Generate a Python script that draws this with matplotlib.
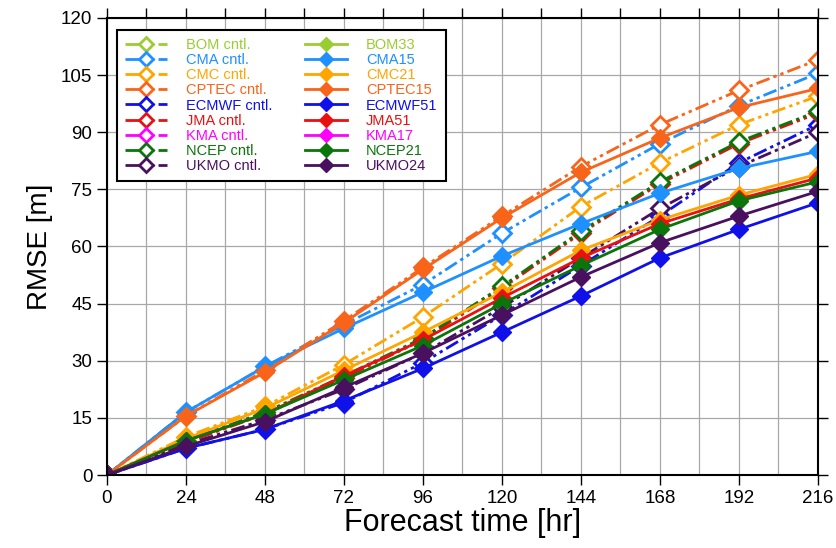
import numpy as np
import matplotlib
matplotlib.use("Agg")
import matplotlib.pyplot as plt
from matplotlib.ticker import MultipleLocator

plt.rcParams['font.family'] = ['Liberation Sans', 'DejaVu Sans']

hours = [0, 24, 48, 72, 96, 120, 144, 168, 192, 216]
nan = np.nan

# control runs
bom_cntl = [nan] * 10
cma_cntl = [0, 16.5, 28.5, 39.5, 50, 63.5, 75.5, 87, 97, 105.5]
cmc_cntl = [0, 10, 18, 29, 41.5, 55.5, 70.5, 82, 92, 99.5]
cptec_cntl = [0, 15.5, 27.5, 40.5, 54.5, 68, 81, 92, 101, 109]
ecmwf_cntl = [0, 7, 12, 19, 29.5, 42, 55, 68, 82, 92]
jma_cntl = [0, 8.5, 16, 25.5, 35.5, 49, 63.5, 76.5, 87, 95]
kma_cntl = [nan] * 10
ncep_cntl = [0, 9, 16.5, 26, 36, 49.5, 64, 77, 87.5, 95.5]
ukmo_cntl = [0, 8, 14.5, 22.5, 32, 44, 57, 70, 81, 90]

# ensemble means
bom_ens = [nan] * 10
cma_ens = [0, 16.5, 28.5, 38.5, 48, 57.5, 66, 74, 80.5, 85]
cmc_ens = [0, 9.5, 17.5, 27.5, 37.5, 48, 59, 67, 73.5, 79]
cptec_ens = [0, 15.5, 27, 40, 54, 67.5, 79.5, 88.5, 96.5, 101.5]
ecmwf_ens = [0, 7, 12, 19.5, 28, 37.5, 47, 57, 64.5, 71.5]
jma_ens = [0, 9, 16, 26, 35.5, 46.5, 57, 66, 72.5, 78]
kma_ens = [nan] * 10
ncep_ens = [0, 9, 16, 25, 34, 45, 55, 64.5, 72, 77]
ukmo_ens = [0, 7.5, 14, 23, 32, 42, 52, 61, 68, 74.5]

cntl_names = ["BOM cntl.", "CMA cntl.", "CMC cntl.", "CPTEC cntl.", "ECMWF cntl.",
              "JMA cntl.", "KMA cntl.", "NCEP cntl.", "UKMO cntl."]
ens_names = ["BOM33", "CMA15", "CMC21", "CPTEC15", "ECMWF51",
             "JMA51", "KMA17", "NCEP21", "UKMO24"]
colors = ["#9acd32", "#1e90ff", "#ffa500", "#f8641a", "#1010e8",
          "#e81010", "#ff00ff", "#0a760a", "#4a1060"]

cntl = [bom_cntl, cma_cntl, cmc_cntl, cptec_cntl, ecmwf_cntl,
        jma_cntl, kma_cntl, ncep_cntl, ukmo_cntl]
ens = [bom_ens, cma_ens, cmc_ens, cptec_ens, ecmwf_ens,
       jma_ens, kma_ens, ncep_ens, ukmo_ens]

fig = plt.figure(figsize=(8.37, 5.48), dpi=100)
ax = fig.add_axes([0.1278, 0.1332, 0.8495, 0.834])

handles_c = []
handles_e = []
for name, c, y in zip(cntl_names, colors, cntl):
    h, = ax.plot(hours, y, color=c, lw=2, dashes=(5, 1.5, 1.2, 1.5, 1.2, 1.5),
                 marker='D', ms=9, mfc='white', mec=c, mew=2, label=name)
    handles_c.append(h)
for name, c, y in zip(ens_names, colors, ens):
    h, = ax.plot(hours, y, color=c, lw=2, marker='D', ms=9, mfc=c, mec=c,
                 label=name)
    handles_e.append(h)

ax.set_xlim(0, 216)
ax.set_ylim(0, 120)
ax.xaxis.set_major_locator(MultipleLocator(24))
ax.xaxis.set_minor_locator(MultipleLocator(12))
ax.yaxis.set_major_locator(MultipleLocator(15))
ax.grid(True, which='both', axis='x', color='#a8a8a8', lw=0.9)
ax.grid(True, which='major', axis='y', color='#a8a8a8', lw=0.9)
ax.set_axisbelow(True)
ax.tick_params(which='both', direction='out', top=True, right=True,
               length=7, width=1, labelsize=13.5)
ax.tick_params(which='minor', top=True, bottom=False, length=7)
for s in ax.spines.values():
    s.set_linewidth(1.5)

ax.set_xlabel("Forecast time [hr]", fontsize=22, labelpad=1)
ax.set_ylabel("RMSE [m]", fontsize=20, labelpad=6)

leg = ax.legend(handles_c + handles_e, cntl_names + ens_names, ncol=2,
                loc='upper left', bbox_to_anchor=(0.004, 0.99),
                fontsize=10.5, fancybox=False, framealpha=1, edgecolor='black',
                handlelength=2.9, labelspacing=0.08, columnspacing=2.2,
                borderpad=0.55, handletextpad=1.3, markerscale=0.8)
leg.get_frame().set_linewidth(1.5)
for t, c in zip(leg.get_texts(), colors + colors):
    t.set_color(c)

fig.savefig("out.png", dpi=100)
